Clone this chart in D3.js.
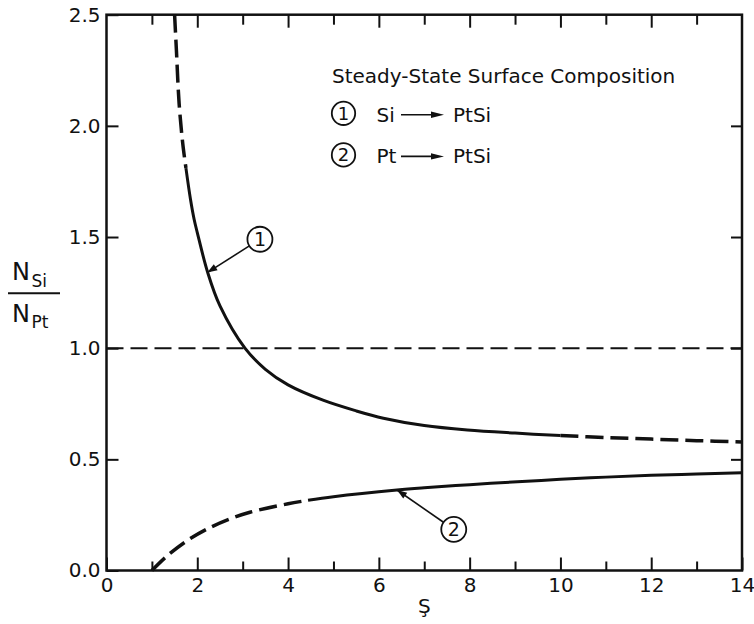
<!DOCTYPE html>
<html>
<head>
<meta charset="utf-8">
<script src="https://cdn.jsdelivr.net/npm/d3@7"></script>
<style>
  body { margin: 0; background: #fff; }
  text { font-family: "DejaVu Sans", sans-serif; fill: #111; }
</style>
</head>
<body>
<div id="container"></div>
<script>
// VARIABLES

const width = 754,
      height = 624,
      margin = {top: 14.7, bottom: 53.5, left: 106.5, right: 12}

// DATA

const curve1S = [1.50, 1.54, 1.60, 1.68, 1.75, 1.85, 1.93, 2.00, 2.23, 2.50, 3.05, 3.50, 4.00, 4.77, 5.50, 6.10, 7.00, 7.95, 9.00, 10.0, 11.0, 12.0, 13.0, 14.0]
const curve1N = [2.50, 2.34, 2.10, 1.92, 1.81, 1.67, 1.58, 1.52, 1.34, 1.19, 1.00, 0.905, 0.835, 0.766, 0.718, 0.685, 0.652, 0.632, 0.618, 0.607, 0.598, 0.591, 0.584, 0.578]
const curve1Breaks = [1.50, 1.75, 10.0, 14.0]
const curve1Styles = ["dash", "solid", "dash"]

const curve2S = [1.00, 1.32, 1.76, 2.20, 2.72, 3.16, 4.00, 4.44, 5.00, 6.40, 7.00, 8.00, 9.05, 10.0, 11.0, 12.0, 13.0, 14.0]
const curve2N = [0.000, 0.063, 0.132, 0.185, 0.232, 0.262, 0.300, 0.316, 0.332, 0.362, 0.372, 0.386, 0.399, 0.410, 0.420, 0.428, 0.434, 0.440]
const curve2Breaks = [1.00, 4.44, 14.0]
const curve2Styles = ["dash", "solid"]

const refLine = 1.0

const xMajorTicks = [0, 2, 4, 6, 8, 10, 12, 14]
const xMinorTicks = [1, 3, 5, 7, 9, 11, 13]
const yTicks = [0.0, 0.5, 1.0, 1.5, 2.0, 2.5]

const legendTitle = "Steady-State Surface Composition"
const legendItems = [["1", "Si", "PtSi"], ["2", "Pt", "PtSi"]]

// SCALES

const xScale = d3.scaleLinear()
    .domain([0, 14])
    .range([margin.left, width - margin.right])

const yScale = d3.scaleLinear()
    .domain([0, 2.5])
    .range([height - margin.bottom, margin.top])

// ELEMENTS

const mySVG = d3.select("#container")
    .append("svg")
    .attr("width", width)
    .attr("height", height)

const x0 = xScale(0), x1 = xScale(14), y0 = yScale(0), y1 = yScale(2.5)

// axes with inward ticks
const fmtY = d3.format(".1f")

mySVG.append("g")
    .attr("transform", `translate(0,${y0})`)
    .call(d3.axisBottom(xScale).tickValues(xMajorTicks).tickSize(-13).tickPadding(7.5))
mySVG.append("g")
    .attr("transform", `translate(0,${y0})`)
    .call(d3.axisBottom(xScale).tickValues(xMinorTicks).tickSize(-9).tickFormat(""))
mySVG.append("g")
    .attr("transform", `translate(0,${y1})`)
    .call(d3.axisTop(xScale).tickValues(xMajorTicks.slice(1, -1)).tickSize(-13).tickFormat(""))
mySVG.append("g")
    .attr("transform", `translate(0,${y1})`)
    .call(d3.axisTop(xScale).tickValues(xMinorTicks).tickSize(-10).tickFormat(""))
mySVG.append("g")
    .attr("transform", `translate(${x0},0)`)
    .call(d3.axisLeft(yScale).tickValues(yTicks).tickSize(-12).tickPadding(6).tickFormat(fmtY))
mySVG.append("g")
    .attr("transform", `translate(${x1},0)`)
    .call(d3.axisRight(yScale).tickValues(yTicks.slice(1, -1)).tickSize(-11).tickFormat(""))

mySVG.selectAll(".domain").remove()
mySVG.selectAll(".tick line").attr("stroke", "#111").attr("stroke-width", 2)
mySVG.selectAll(".tick text").style("font-size", "20px").attr("fill", "#111")

// frame
mySVG.append("rect")
    .attr("x", x0).attr("y", y1)
    .attr("width", x1 - x0).attr("height", y0 - y1)
    .attr("fill", "none")
    .attr("stroke", "#111")
    .attr("stroke-width", 2.5)

// reference line at 1.0
mySVG.append("line")
    .attr("x1", x0).attr("x2", x1)
    .attr("y1", yScale(refLine)).attr("y2", yScale(refLine))
    .attr("stroke", "#111")
    .attr("stroke-width", 2)
    .attr("stroke-dasharray", "17,7")

// curves
const line = d3.line()
    .x(d => xScale(d[0]))
    .y(d => yScale(d[1]))
    .curve(d3.curveCatmullRom.alpha(0.5))

function drawCurve(sVals, nVals, breaks, styles) {
  const pts = sVals.map((s, i) => [s, nVals[i]])
  styles.forEach((st, i) => {
    const seg = pts.filter(p => p[0] >= breaks[i] && p[0] <= breaks[i + 1])
    mySVG.append("path")
        .datum(seg)
        .attr("d", line)
        .attr("fill", "none")
        .attr("stroke", "#111")
        .attr("stroke-width", st === "dash" ? 3.5 : 3)
        .attr("stroke-linecap", "butt")
        .attr("stroke-dasharray", st === "dash" ? "18,7" : null)
  })
}

drawCurve(curve1S, curve1N, curve1Breaks, curve1Styles)
drawCurve(curve2S, curve2N, curve2Breaks, curve2Styles)

// arrowhead helper
function arrowHead(tx, ty, fx, fy, len, half) {
  const a = Math.atan2(ty - fy, tx - fx)
  const bx = tx - len * Math.cos(a), by = ty - len * Math.sin(a)
  const px = -Math.sin(a) * half, py = Math.cos(a) * half
  mySVG.append("path")
      .attr("d", `M${tx},${ty}L${bx + px},${by + py}L${bx - px},${by - py}Z`)
      .attr("fill", "#111")
}

// curve labels with leaders
function curveLabel(num, cs, cn, ts, tn) {
  const cx = xScale(cs), cy = yScale(cn), tx = xScale(ts), ty = yScale(tn)
  const r = 12.5
  const a = Math.atan2(ty - cy, tx - cx)
  const sx = cx + r * Math.cos(a), sy = cy + r * Math.sin(a)
  mySVG.append("line")
      .attr("x1", sx).attr("y1", sy).attr("x2", tx).attr("y2", ty)
      .attr("stroke", "#111").attr("stroke-width", 1.6)
  arrowHead(tx, ty, sx, sy, 10, 3.5)
  mySVG.append("circle")
      .attr("cx", cx).attr("cy", cy).attr("r", r)
      .attr("fill", "#fff").attr("stroke", "#111").attr("stroke-width", 1.8)
  mySVG.append("text")
      .attr("x", cx).attr("y", cy + 7)
      .attr("text-anchor", "middle")
      .style("font-size", "19px")
      .text(num)
}

curveLabel("1", 3.38, 1.49, 2.22, 1.34)
curveLabel("2", 7.65, 0.185, 6.40, 0.362)

// legend
const legend = mySVG.append("g")

legend.append("text")
    .attr("x", 332).attr("y", 83.3)
    .style("font-size", "20px")
    .text(legendTitle)

legendItems.forEach((it, i) => {
  const base = 121.7 + i * 41.6
  const cy = base - 8.4
  legend.append("circle")
      .attr("cx", 343.5).attr("cy", cy).attr("r", 11.7)
      .attr("fill", "none").attr("stroke", "#111").attr("stroke-width", 1.8)
  legend.append("text")
      .attr("x", 343.5).attr("y", cy + 6.5)
      .attr("text-anchor", "middle")
      .style("font-size", "18px")
      .text(it[0])
  legend.append("text")
      .attr("x", 376.5).attr("y", base)
      .style("font-size", "20px")
      .text(it[1])
  legend.append("line")
      .attr("x1", 401).attr("x2", 434).attr("y1", cy + 1.5).attr("y2", cy + 1.5)
      .attr("stroke", "#111").attr("stroke-width", 1.6)
  arrowHead(444, cy + 1.5, 401, cy + 1.5, 13, 3.2)
  legend.append("text")
      .attr("x", 453).attr("y", base)
      .style("font-size", "20px")
      .text(it[2])
})

// axis titles
mySVG.append("text")
    .attr("x", xScale(7)).attr("y", 612.5)
    .attr("text-anchor", "middle")
    .style("font-size", "20px")
    .text("Ş")

const yLab = mySVG.append("g")
yLab.append("text").attr("x", 12).attr("y", 280).style("font-size", "24px").text("N")
yLab.append("text").attr("x", 31.5).attr("y", 287).style("font-size", "17px").text("Si")
yLab.append("line")
    .attr("x1", 8).attr("x2", 60).attr("y1", 293.3).attr("y2", 293.3)
    .attr("stroke", "#111").attr("stroke-width", 2)
yLab.append("text").attr("x", 12).attr("y", 321.7).style("font-size", "24px").text("N")
yLab.append("text").attr("x", 31.5).attr("y", 327.5).style("font-size", "17px").text("Pt")
</script>
</body>
</html>
